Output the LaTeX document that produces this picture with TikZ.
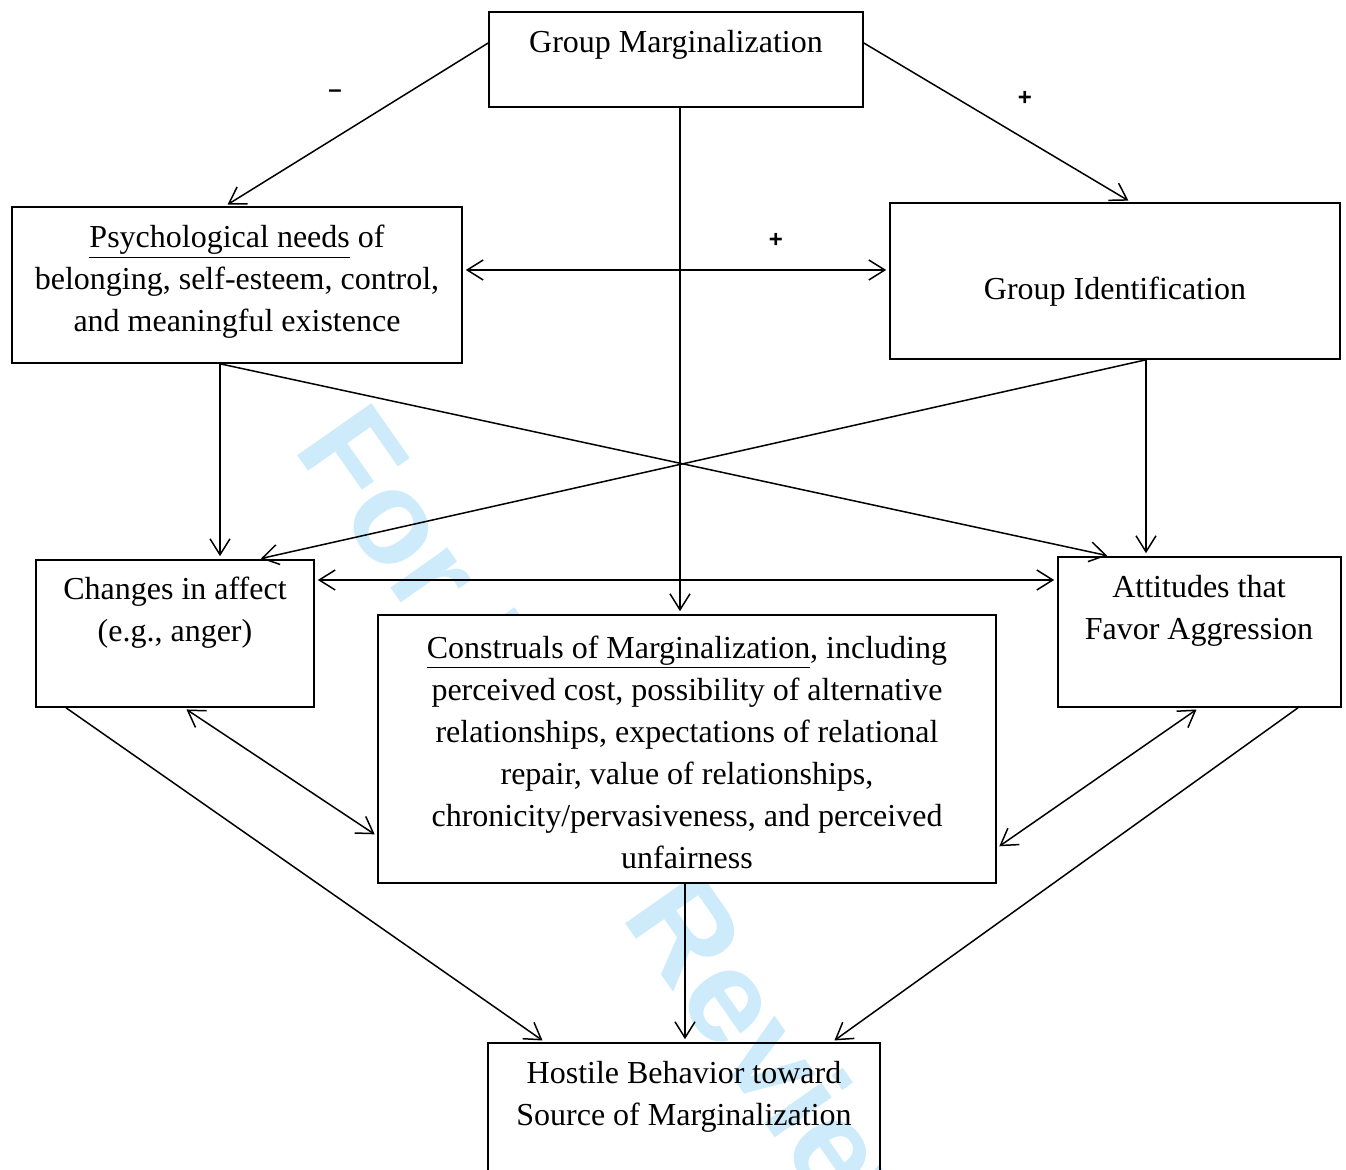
\documentclass[tikz,border=0pt]{standalone}
\usepackage{fontspec}
\setmainfont{Liberation Serif}
\setsansfont{Liberation Sans}
\usetikzlibrary{arrows.meta,fit}

\definecolor{wmblue}{RGB}{205,235,250}

\tikzset{
        box/.style={draw,line width=0.8pt,fill=white,inner sep=0pt},
        openbox/.style={draw,line width=0.8pt,inner sep=0pt},
        txt/.style={align=center,inner sep=0pt,font=\fontsize{16}{21}\selectfont},
        sign/.style={inner sep=0pt,font=\fontsize{12}{12}\sffamily\bfseries},
        link/.style={-{Straight Barb[length=8pt,width=10pt]},line width=0.75pt,shorten >=1.5pt},
        both/.style={{Straight Barb[length=8pt,width=10pt]}-{Straight Barb[length=8pt,width=10pt]},line width=0.75pt,shorten >=1.5pt,shorten <=1.5pt}
}

\begin{document}
\begin{tikzpicture}[x=0.5pt,y=-0.5pt]
        \useasboundingbox (0,0) rectangle (1346,1170);
        \node[rotate=-55,text=wmblue,inner sep=0pt,font=\fontsize{66}{66}\sffamily\bfseries] (wm) at (626,842) {For Peer Review};

        \node[box,fit={(489,12) (863,107)}] (gm) {};
        \node[box,fit={(12,207) (462,363)}] (pn) {};
        \node[box,fit={(890,203) (1340,359)}] (gi) {};
        \node[box,fit={(36,560) (314,707)}] (ca) {};
        \node[box,fit={(1058,557) (1341,707)}] (af) {};
        \node[box,fit={(378,615) (996,883)}] (cm) {};
        \node[openbox,fit={(488,1043) (880,1180)}] (hb) {};

        \node[txt] (gmtext) at (676,45) {Group Marginalization};
        \node[txt] (pntext) at (237,282) {\underline{Psychological needs} of\\ belonging, self-esteem, control,\\ and meaningful existence};
        \node[txt] (gitext) at (1115,292) {Group Identification};
        \node[txt] (catext) at (175,613) {Changes in affect\\ (e.g., anger)};
        \node[txt] (aftext) at (1199,611) {Attitudes that\\ Favor Aggression};
        \node[txt] (cmtext) at (687,752) {\underline{Construals of Marginalization}, including\\ perceived cost, possibility of alternative\\ relationships, expectations of relational\\ repair, value of relationships,\\ chronicity/pervasiveness, and perceived\\ unfairness};
        \node[txt] (hbtext) at (684,1097) {Hostile Behavior toward\\ Source of Marginalization};

        \node[sign] (minus) at (335,94) {--};
        \node[sign] (plusa) at (1025,98) {+};
        \node[sign] (plusb) at (776,240) {+};

        \draw[link] (gm.west |- 0,43) -- (pn.north -| 225,0);
        \draw[link] (gm.east |- 0,43) -- (gi.north -| 1131,0);
        \draw[both] (pn.east |- 0,270) -- (gi.west |- 0,270);
        \draw[link] (gm.south -| 680,0) -- (cm.north -| 680,0);
        \draw[link] (pn.south -| 220,0) -- (ca.north -| 220,0);
        \draw[link] (gi.south -| 1146,0) -- (af.north -| 1146,0);
        \draw[link] (pn.south -| 220,0) -- (af.north -| 1110,0);
        \draw[link] (gi.south -| 1146,0) -- (ca.north -| 258,0);
        \draw[both] (ca.east |- 0,580) -- (af.west |- 0,580);
        \draw[both] (ca.south -| 184,0) -- (cm.west |- 0,836);
        \draw[both] (cm.east |- 0,848) -- (af.south -| 1199,0);
        \draw[link] (ca.south -| 66,0) -- (hb.north -| 545,0);
        \draw[link] (cm.south -| 685,0) -- (hb.north -| 685,0);
        \draw[link] (af.south -| 1298,0) -- (hb.north -| 832,0);
\end{tikzpicture}
\end{document}
